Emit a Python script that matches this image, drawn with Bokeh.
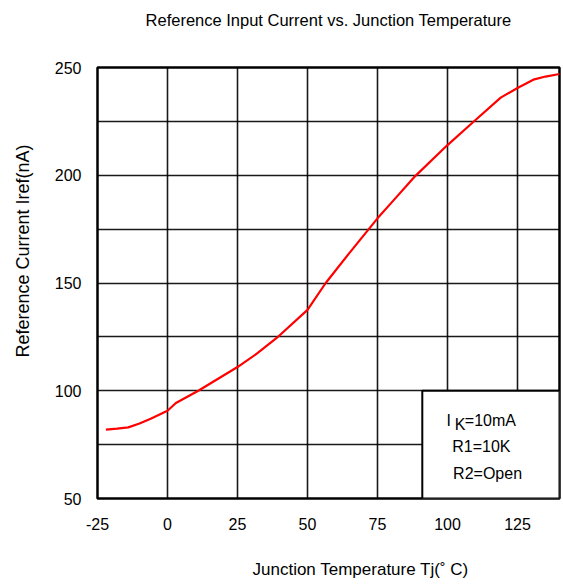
import math
from bokeh.plotting import figure
from bokeh.models import Range1d, FixedTicker, Title
from bokeh.core.properties import value
from bokeh.embed import file_html
from bokeh.resources import INLINE

# ---- data ----
temp_c = [-22, -18, -14, -10, -6, 0, 3, 11, 25, 32, 39, 50, 56.5, 65, 75, 80, 88, 100, 109, 119, 125, 131, 135, 140]
iref_na = [82, 82.4, 83, 84.8, 87, 90.7, 94.3, 100, 111, 117.3, 124.5, 137.5, 150, 164, 180, 187.3, 199, 214, 224.5, 236, 240.5, 244.5, 245.8, 247]

x_ticks = [-25, 0, 25, 50, 75, 100, 125]
y_ticks = [50, 100, 150, 200, 250]
x_grid = [0, 25, 50, 75, 100, 125]
y_grid = [75, 100, 125, 150, 175, 200, 225]
cond_lines = ["R1=10K", "R2=Open"]

TITLE = "Reference Input Current vs. Junction Temperature"
X_LABEL = "Junction Temperature Tj(\u02da C)"
Y_LABEL = "Reference Current Iref(nA)"
FONT = "Liberation Sans"

p = figure(width=561, height=585, output_backend="svg", toolbar_location=None,
           x_range=Range1d(-25, 140), y_range=Range1d(50, 250),
           min_border_left=97, min_border_right=2, min_border_top=67, min_border_bottom=87)

p.outline_line_color = "black"
p.outline_line_width = 2.5
p.outline_line_alpha = 1.0

# grids
p.xgrid.ticker = FixedTicker(ticks=x_grid)
p.ygrid.ticker = FixedTicker(ticks=y_grid)
for g in (p.xgrid, p.ygrid):
    g.grid_line_color = "black"
    g.grid_line_width = 1.6
    g.grid_line_alpha = 0.9

# axes
p.xaxis.ticker = FixedTicker(ticks=x_ticks)
p.yaxis.ticker = FixedTicker(ticks=y_ticks)
p.xaxis.major_label_overrides = {-25: "-25"}
for ax in (p.xaxis, p.yaxis):
    ax.axis_line_color = None
    ax.major_tick_line_color = None
    ax.minor_tick_line_color = None
    ax.major_tick_out = 0
    ax.major_tick_in = 0
    ax.minor_tick_out = 0
    ax.minor_tick_in = 0
    ax.major_label_text_font = FONT
    ax.major_label_text_font_size = "16px"
    ax.major_label_text_color = "black"
p.yaxis.major_label_standoff = 16
p.xaxis.major_label_standoff = 19


def gap(n):
    # blank title used only as a spacer in a side panel
    return Title(text=" ", standoff=n, text_font_size="1px", text_font=FONT)


# main title (outermost in the 'above' panel, beyond a spacer)
p.add_layout(gap(36), "above")
p.title.text = TITLE
p.title.align = "center"
p.title.text_font = FONT
p.title.text_font_size = "16.5px"
p.title.text_font_style = "normal"
p.title.text_color = "black"
p.title.standoff = 0

# x axis title
p.add_layout(gap(24), "below")
p.add_layout(Title(text=X_LABEL, align="left", offset=155, vertical_align="top", standoff=0,
                   text_font=FONT, text_font_size="17px", text_font_style="normal",
                   text_color="black"), "below")

# y axis title
p.add_layout(gap(16), "left")
p.add_layout(Title(text=Y_LABEL, align="left", offset=141, vertical_align="bottom", standoff=0,
                   text_font=FONT, text_font_size="18px", text_font_style="normal",
                   text_color="black"), "left")

# curve
p.line(temp_c, iref_na, line_color="#ff0000", line_width=2.2)

# conditions box
p.quad(left=[91], right=[140], bottom=[50], top=[100],
       fill_color="white", line_color="black", line_width=2)
p.text(x=[99.6], y=[86.4], text=["I"], text_font=value(FONT), text_font_size="16px",
       text_baseline="middle", text_color="black")
p.text(x=[102.6], y=[84.4], text=["K"], text_font=value(FONT), text_font_size="16px",
       text_baseline="middle", text_color="black")
p.text(x=[106.2], y=[86.4], text=["=10mA"], text_font=value(FONT), text_font_size="16px",
       text_baseline="middle", text_color="black")
p.text(x=[101.7, 102.0], y=[73.9, 61.6], text=cond_lines, text_font=value(FONT),
       text_font_size="16px", text_baseline="middle", text_color="black")

open("out.html", "w").write(file_html(p, INLINE))
